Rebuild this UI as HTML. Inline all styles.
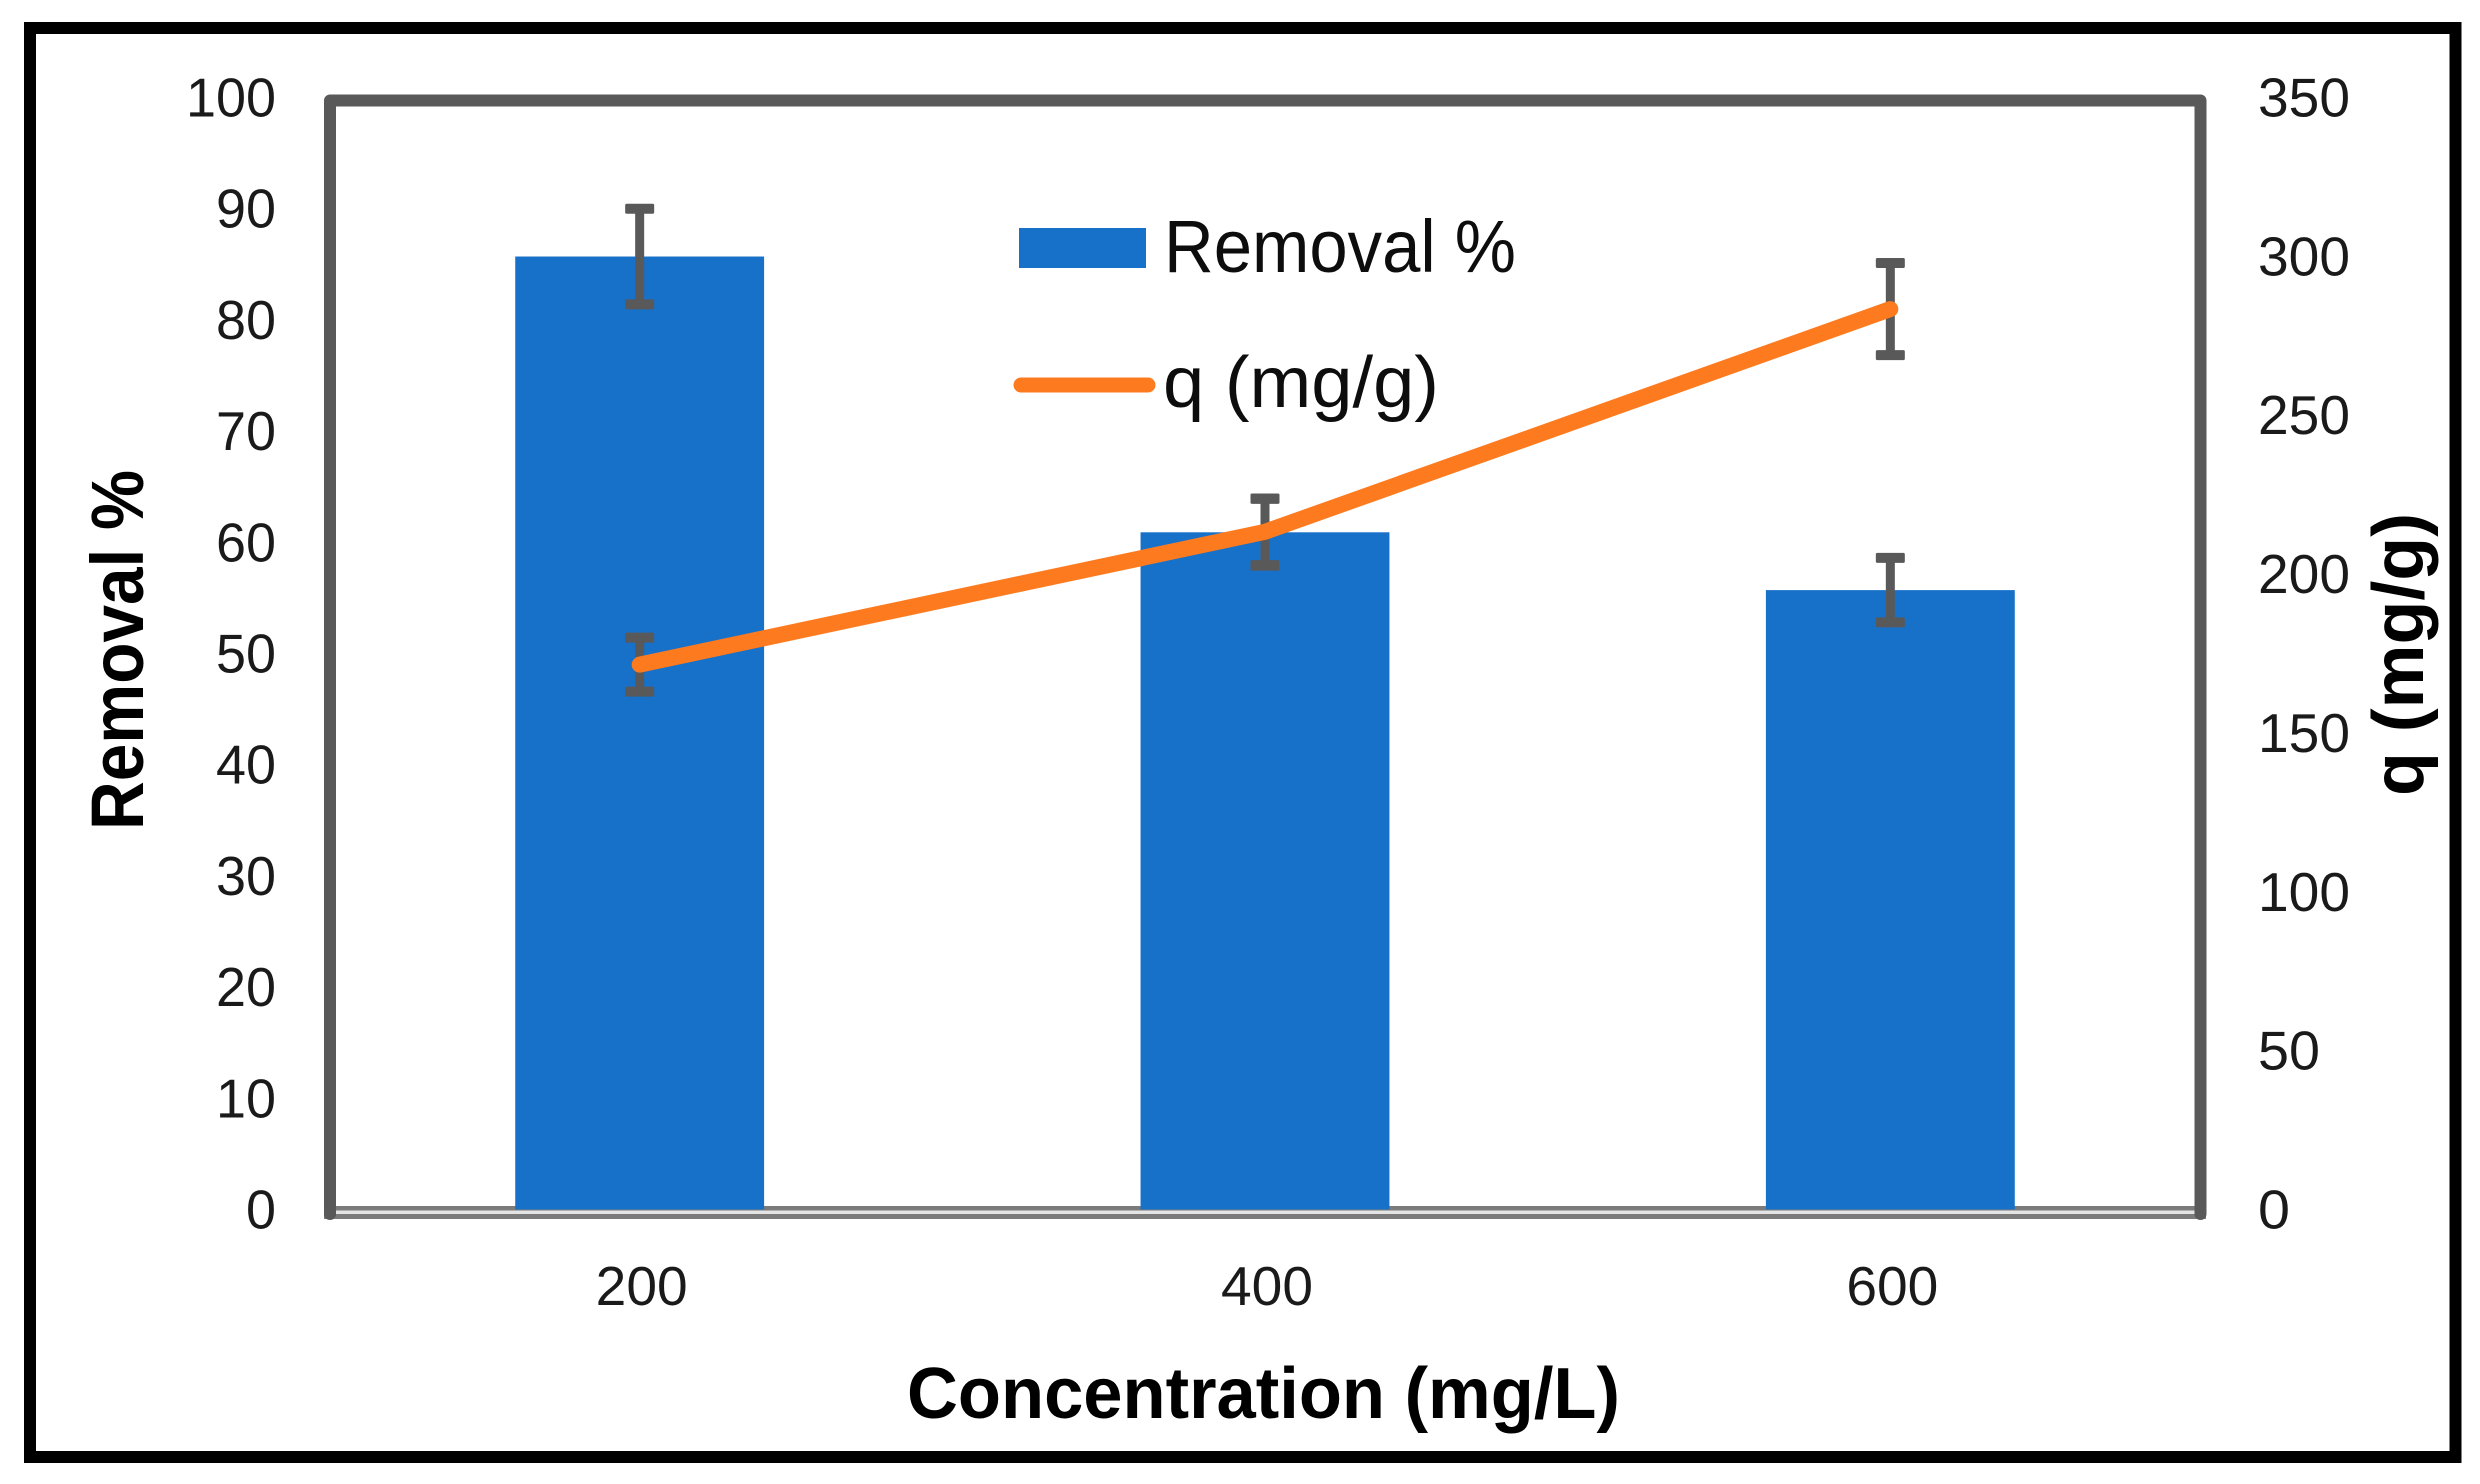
<!DOCTYPE html>
<html lang="en">
<head>
<meta charset="utf-8">
<title>Removal % and q vs Concentration</title>
<style>
  html, body { margin: 0; padding: 0; background: #fff; }
  body { width: 2480px; height: 1484px; overflow: hidden; }
  svg { display: block; }
  text { font-family: "Liberation Sans", sans-serif; }
</style>
</head>
<body>
<svg id="chart" xmlns="http://www.w3.org/2000/svg" width="2480" height="1484" viewBox="0 0 2480 1484">
  <rect x="0" y="0" width="2480" height="1484" fill="#fff"/>
  <rect x="30" y="28" width="2425.5" height="1429" fill="none" stroke="#000" stroke-width="12"/>
  <g id="plot"></g>
  <g id="legend">
    <rect x="1019" y="228" width="127" height="40" fill="#1871c9"/>
    <text x="1164" y="272" font-size="74" fill="#0d0d0d" textLength="352" lengthAdjust="spacingAndGlyphs">Removal %</text>
    <line x1="1021" y1="385" x2="1148" y2="385" stroke="#fd7a1f" stroke-width="15" stroke-linecap="round"/>
    <text x="1163" y="407" font-size="72" fill="#0d0d0d" textLength="276" lengthAdjust="spacingAndGlyphs">q (mg/g)</text>
  </g>
  <text x="907" y="1418" font-size="72" font-weight="700" fill="#000" textLength="713" lengthAdjust="spacingAndGlyphs">Concentration (mg/L)</text>
  <text transform="translate(143 830) rotate(-90)" x="0" y="0" font-size="74" font-weight="700" fill="#000" textLength="360" lengthAdjust="spacingAndGlyphs">Removal %</text>
  <text transform="translate(2423 796) rotate(-90)" x="0" y="0" font-size="72" font-weight="700" fill="#000" textLength="283" lengthAdjust="spacingAndGlyphs">q (mg/g)</text>
</svg>
<script>
const categories = ['200', '400', '600'];
const removalValues = [85.7, 60.9, 55.7];
const removalErrors = [4.3, 3.0, 2.9];
const qValues = [171.5, 213.3, 283.4];
const qErrors = [8.5, 10.5, 14.5];
const leftTicks = [0, 10, 20, 30, 40, 50, 60, 70, 80, 90, 100];
const rightTicks = [0, 50, 100, 150, 200, 250, 300, 350];
const leftMax = 100;
const rightMax = 350;

const NS = 'http://www.w3.org/2000/svg';
const plot = document.getElementById('plot');
const plotLeft = 327, plotRight = 2203, plotTop = 97.5, plotBottom = 1209.5;
const bandWidth = (plotRight - plotLeft) / categories.length;
const barWidth = bandWidth * 0.398;

function xCenter(i) { return plotLeft + bandWidth * (i + 0.5); }
function yLeft(v) { return plotBottom - (v / leftMax) * (plotBottom - plotTop); }
function yRight(v) { return plotBottom - (v / rightMax) * (plotBottom - plotTop); }

function make(tag, attrs, parent) {
  const el = document.createElementNS(NS, tag);
  for (const k in attrs) el.setAttribute(k, attrs[k]);
  (parent || plot).appendChild(el);
  return el;
}

function errorBar(cx, yc, halfPx) {
  const g = make('g', {});
  
  
  make('line', { x1: cx, x2: cx, y1: yc - halfPx, y2: yc + halfPx, stroke: '#595959', 'stroke-width': 9 }, g);
  make('rect', { x: cx - 14.5, y: yc - halfPx - 5, width: 29, height: 10, rx: 1.5, fill: '#595959' }, g);
  make('rect', { x: cx - 14.5, y: yc + halfPx - 5, width: 29, height: 10, rx: 1.5, fill: '#595959' }, g);
}

// Axis base: double rule along the bottom
const axisA = make('rect', { x: 324, y: 1206, width: 1882, height: 4.5, fill: '#7b7b7b' });


const axisB = make('rect', { x: 324, y: 1210.5, width: 1882, height: 3.5, fill: '#e4e4e4' });


const axisC = make('rect', { x: 324, y: 1214, width: 1882, height: 5, fill: '#7b7b7b' });



// Plot frame: left, top, right
const frame = make('path', {
  d: 'M330 1214 L330 100.5 L2200.5 100.5 L2200.5 1214',
  fill: 'none', stroke: '#595959', 'stroke-width': 12, 'stroke-linejoin': 'round', 'stroke-linecap': 'round'
});



// Bars
categories.forEach((c, i) => {
  const top = yLeft(removalValues[i]);
  const bar = make('rect', {
    x: xCenter(i) - barWidth / 2, y: top, width: barWidth, height: plotBottom - top, fill: '#1871c9'
  });
  
  
});

// Error bars
categories.forEach((c, i) => {
  errorBar(xCenter(i), yLeft(removalValues[i]), (removalErrors[i] / leftMax) * (plotBottom - plotTop));
});
categories.forEach((c, i) => {
  errorBar(xCenter(i), yRight(qValues[i]), (qErrors[i] / rightMax) * (plotBottom - plotTop));
});

// Line
const linePts = qValues.map((v, i) => xCenter(i) + ',' + yRight(v)).join(' ');
const qLine = make('polyline', {
  points: linePts, fill: 'none', stroke: '#fd7a1f', 'stroke-width': 16,
  'stroke-linecap': 'round', 'stroke-linejoin': 'round'
});



// Tick labels
const digitWidth = 30;
leftTicks.forEach((t) => {
  const s = String(t);
  const label = make('text', {
    x: 276, y: yLeft(t) + 19, 'font-size': 55, fill: '#1a1a1a', 'text-anchor': 'end',
    textLength: s.length * digitWidth, lengthAdjust: 'spacingAndGlyphs'
  });
  label.textContent = s;
  
  
});
rightTicks.forEach((t) => {
  const s = String(t);
  const label = make('text', {
    x: 2258, y: yRight(t) + 19, 'font-size': 55, fill: '#1a1a1a', 'text-anchor': 'start',
    textLength: s.length * digitWidth + 2, lengthAdjust: 'spacingAndGlyphs'
  });
  label.textContent = s;
  
  
});
categories.forEach((c, i) => {
  const label = make('text', {
    x: xCenter(i) + 2, y: 1305, 'font-size': 55, fill: '#1a1a1a', 'text-anchor': 'middle',
    textLength: c.length * digitWidth + 2, lengthAdjust: 'spacingAndGlyphs'
  });
  label.textContent = c;
  
  
});
</script>
</body>
</html>
